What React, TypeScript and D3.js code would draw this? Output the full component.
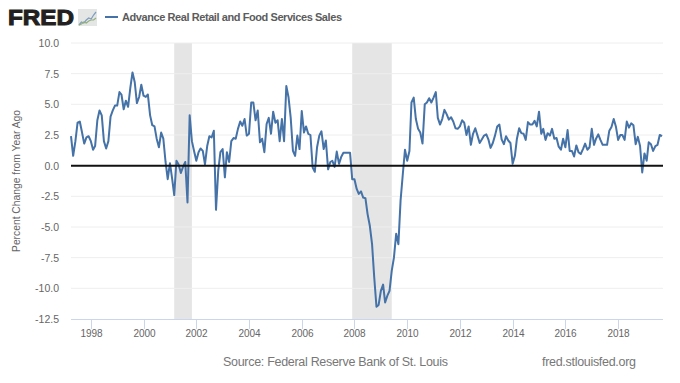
import React from "react";
import * as d3 from "d3";

const startDate = new Date(1997, 3, 1);
const endDate = new Date(2019, 8, 1);
const values = [
  2.4, 0.8, 2.0, 3.5, 3.6, 2.7, 1.8, 2.3, 2.4, 2.0, 1.3, 1.6, 3.7, 4.5, 4.1, 2.0, 1.4, 2.0, 4.0, 4.5, 4.9, 4.9, 6.0, 5.8, 4.6, 5.3, 4.8, 6.3, 7.6, 6.8, 5.1, 5.6, 6.6, 5.7, 5.6, 5.8, 4.1, 3.3, 3.2, 2.2, 1.5, 2.7, 2.2, 0.3, -1.1, 0.2, -1.1, -2.4, 0.4, 0.1, -0.6, -0.1, 0.3, -3.0,
  4.1, 2.0, 1.2, 0.4, 1.1, 1.4, 1.2, 0.1, 1.6, 2.4, 2.3, 2.85, -3.6, -0.4, 1.1, 1.35, -0.95, 1.1, 0.3, 2.0, 2.25, 2.2, 3.0, 3.6, 3.25, 3.8, 2.45, 2.6, 5.15, 5.15, 3.7, 4.5, 1.9, 2.2, 1.1, 3.4, 3.9, 2.6, 4.4, 3.5, 3.7, 2.0, 3.8, 2.0, 6.5, 5.6, 3.9, 1.2, 0.8, 2.45, 1.35,
  4.45, 2.7, 3.2, 2.6, 2.5, -0.15, -0.5, 1.5, 2.45, 2.8, 1.35, 2.05, -0.3, 0.3, 0.4, -0.1, 1.15, 0.15, 0.7, 1.05, 1.05, 1.05, 1.05, -1.1,
  -1.1, -1.9, -2.3, -2.1, -2.6, -2.65, -3.95, -4.9, -6.4, -9.1, -11.5, -11.35, -10.2, -9.7, -11.15, -10.6, -10.2, -8.55, -7.5, -5.55, -6.4, -2.85, -0.7, 1.3,
  0.4, 1.2, 5.15, 5.55, 3.8, 3.0, 2.7, 1.8, 5.0, 5.15, 5.5, 5.15, 5.55, 6.0, 3.9, 3.35, 3.8, 4.55, 4.2, 3.75, 3.95, 3.6, 3.05, 3.0, 3.2, 3.7, 3.5, 2.5, 3.2, 1.7, 2.6, 3.05, 2.45, 1.85, 2.15, 2.45, 2.55, 2.1, 1.45, 1.85, 2.45, 3.2, 3.35, 2.15, 1.75, 2.4, 2.05, 1.85,
  0.15, 0.8, 2.2, 3.05, 2.65, 2.6, 2.1, 3.55, 3.35, 3.35, 3.65, 3.2, 4.4, 2.6, 3.0, 2.1, 2.65, 2.45, 3.0, 2.2, 2.25, 1.55, 1.3, 2.2, 1.5, 2.9, 1.2, 1.2, 0.75, 1.65, 1.1, 0.95, 1.35, 1.8, 1.3, 1.5, 3.0, 1.7, 2.2, 2.55, 2.1, 1.7, 1.7, 1.7, 2.85, 3.15, 3.8, 3.2, 2.1, 2.5, 2.5, 2.1, 3.6, 3.1, 3.45, 3.3, 1.75, 2.35, 1.6, -0.55, 1.0, 0.4, 1.9, 1.75, 1.2, 1.6, 1.7, 2.5, 2.4,
];
const recessionStarts = [new Date(2001, 2, 1), new Date(2007, 11, 1)];
const recessionEnds = [new Date(2001, 10, 1), new Date(2009, 5, 1)];
const yTicks = [10, 7.5, 5, 2.5, 0, -2.5, -5, -7.5, -10, -12.5];
const xTickYears = [1998, 2000, 2002, 2004, 2006, 2008, 2010, 2012, 2014, 2016, 2018];
const iconBlue = [0, 3, 2, 5, 7, 6, 10, 13];
const iconGreen = [0, 1, 3, 2, 4, 5, 5, 7];

const LEFT = 71, RIGHT = 663, TOP = 43, BOTTOM = 319;
const SANS = "'Liberation Sans', Arial, sans-serif";
const BLUE = "#4572a7";

export default function App() {
  const x = d3.scaleTime().domain([startDate, endDate]).range([LEFT, RIGHT - 1]);
  const y = d3.scaleLinear().domain([-12.5, 10]).range([BOTTOM, TOP]);
  const dates = values.map((_, i) => d3.timeMonth.offset(startDate, i));
  const line = d3.line<number>().x((_, i) => x(dates[i])).y((d) => y(d));
  const ix = d3.scaleLinear().domain([0, 7]).range([79, 96]);
  const iy = d3.scaleLinear().domain([0, 14]).range([25, 11]);
  const il = (arr: number[]) => d3.line<number>().x((_, i) => ix(i)).y((d) => iy(d))(arr) as string;
  return (
    <svg width={680} height={383} style={{ position: "absolute", left: 0, top: 0, background: "#fff" }} fontFamily={SANS}>
      <text x={8} y={25} fontSize={21.5} fontWeight={700} fill="#231f20" stroke="#231f20" strokeWidth={1} textLength={66} lengthAdjust="spacingAndGlyphs">FRED</text>
      <rect x={78} y={9} width={19} height={17} fill="#e4e6e6" />
      <path d={il(iconBlue)} fill="none" stroke="#7f9cc0" strokeWidth={1.2} />
      <path d={il(iconGreen)} fill="none" stroke="#93b078" strokeWidth={1.2} />
      <line x1={105} x2={118} y1={17} y2={17} stroke={BLUE} strokeWidth={2} />
      <text x={122} y={21} fontSize={11} fontWeight={700} fill="#5c5c5c" textLength={220} lengthAdjust="spacing">Advance Real Retail and Food Services Sales</text>

      {recessionStarts.map((d, i) => (
        <rect key={i} x={x(d)} y={TOP} width={x(recessionEnds[i]) - x(d)} height={BOTTOM - TOP} fill="#e5e5e5" />
      ))}
      {yTicks.map((t) => (
        <g key={t}>
          {t !== -12.5 && <line x1={LEFT} x2={RIGHT} y1={y(t)} y2={y(t)} stroke="#eeeeee" strokeWidth={1} />}
          <text x={59} y={y(t) + 4} textAnchor="end" fontSize={10.5} fill="#666">{t.toFixed(1)}</text>
        </g>
      ))}
      <line x1={LEFT} x2={RIGHT} y1={319.5} y2={319.5} stroke="#ccd6eb" strokeWidth={1} />
      {xTickYears.map((yr) => {
        const px = Math.round(x(new Date(yr, 0, 1))) + 0.5;
        return (
          <g key={yr}>
            <line x1={px} x2={px} y1={319} y2={329} stroke="#ccd6eb" strokeWidth={1} />
            <text x={px} y={337} textAnchor="middle" fontSize={10} fill="#666">{yr}</text>
          </g>
        );
      })}
      <path d={line(values) as string} fill="none" stroke={BLUE} strokeWidth={2} strokeLinejoin="round" />
      <line x1={LEFT} x2={RIGHT} y1={y(0)} y2={y(0)} stroke="#111" strokeWidth={2} />
      <text transform={`translate(20,181) rotate(-90)`} textAnchor="middle" fontSize={10.3} fill="#666">Percent Change from Year Ago</text>
      <text x={223} y={366} fontSize={12.5} fill="#777" textLength={225} lengthAdjust="spacing">Source: Federal Reserve Bank of St. Louis</text>
      <text x={542} y={366} fontSize={12.5} fill="#777" textLength={94} lengthAdjust="spacing">fred.stlouisfed.org</text>
    </svg>
  );
}
